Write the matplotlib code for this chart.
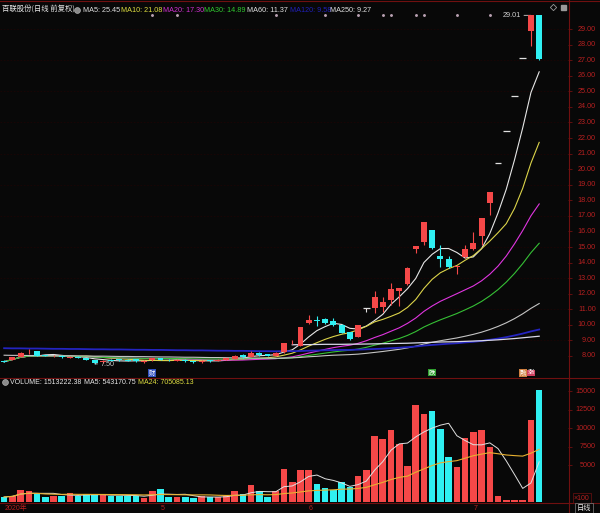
import numpy as np
import pandas as pd
import matplotlib
matplotlib.use("Agg")
import matplotlib.pyplot as plt
import matplotlib.transforms as mtrans
from matplotlib.lines import Line2D

plt.rcParams["font.family"] = ["Liberation Sans", "Noto Sans CJK SC", "DejaVu Sans"]

W, H = 600, 513
BG = "#080808"
AXC = "#701010"      # frame lines
LBL = "#b82020"      # axis numbers
RED = "#f54848"
CYAN = "#2ff0f2"

# daily bars, 2020-04 .. 2020-07
opens = [7.70, 7.74, 7.96, 8.17, 8.32, 8.04, 7.97, 8.01, 7.88, 7.94,
         7.86, 7.72, 7.60, 7.73, 7.78, 7.75, 7.78, 7.60, 7.72, 7.84,
         7.76, 7.70, 7.74, 7.66, 7.61, 7.72, 7.68, 7.76, 7.82, 8.05,
         7.96, 8.21, 8.12, 8.00, 8.24, 8.88, 8.66, 10.10, 10.31, 10.36,
         10.27, 9.99, 9.52, 9.24, 11.06, 11.06, 11.17, 11.60, 12.17, 12.62,
         14.89, 15.34, 16.09, 14.42, 14.21, 13.70, 14.34, 14.85, 15.71, 17.85,
         20.41, 22.45, 24.70, 27.17, 28.90, 29.88]
highs = [7.74, 7.95, 8.24, 8.43, 8.35, 8.08, 8.06, 8.04, 7.99, 7.97,
         7.90, 7.76, 7.72, 7.78, 7.83, 7.79, 7.82, 7.72, 7.86, 7.88,
         7.80, 7.80, 7.78, 7.70, 7.73, 7.76, 7.80, 7.88, 8.08, 8.12,
         8.34, 8.26, 8.16, 8.24, 8.86, 9.05, 9.88, 10.63, 10.55, 10.42,
         10.47, 10.03, 9.55, 10.02, 11.06, 12.17, 11.80, 12.70, 12.39, 13.70,
         15.06, 16.63, 16.12, 15.13, 14.40, 13.80, 15.13, 15.98, 16.85, 18.55,
         20.41, 22.45, 24.70, 27.17, 29.88, 29.88]
lows = [7.60, 7.72, 7.94, 8.12, 8.00, 7.98, 7.95, 7.90, 7.85, 7.84,
        7.72, 7.50, 7.57, 7.65, 7.70, 7.66, 7.62, 7.58, 7.70, 7.72,
        7.68, 7.68, 7.64, 7.58, 7.58, 7.64, 7.66, 7.74, 7.80, 7.90,
        7.94, 8.02, 7.98, 7.98, 8.20, 8.80, 8.62, 10.05, 9.92, 10.05,
        9.95, 9.45, 9.02, 9.20, 10.80, 10.74, 10.85, 11.30, 11.20, 12.55,
        14.60, 15.13, 14.90, 13.74, 13.68, 13.27, 14.30, 14.80, 15.13, 17.06,
        20.41, 22.45, 24.70, 27.17, 27.90, 27.00]
closes = [7.63, 7.92, 8.21, 8.21, 8.02, 8.01, 8.03, 7.93, 7.96, 7.87,
          7.75, 7.58, 7.70, 7.68, 7.73, 7.69, 7.66, 7.69, 7.84, 7.75,
          7.72, 7.77, 7.67, 7.62, 7.70, 7.67, 7.77, 7.86, 8.03, 7.95,
          8.21, 8.04, 8.00, 8.21, 8.81, 8.92, 9.88, 10.31, 10.23, 10.10,
          9.99, 9.50, 9.07, 9.99, 11.06, 11.77, 11.49, 12.28, 12.39, 13.67,
          15.06, 16.63, 14.92, 14.21, 13.70, 13.78, 14.85, 15.28, 16.85, 18.55,
          20.41, 22.45, 24.70, 27.17, 29.88, 27.06]
# volume in hundreds of shares
volumes = [675, 855, 1670, 1530, 1125, 675, 855, 855, 1215, 855,
           1035, 945, 945, 855, 855, 855, 855, 500, 1485, 1710,
           720, 675, 630, 540, 855, 675, 630, 855, 1485, 1035,
           2250, 1530, 675, 1440, 4455, 2745, 4320, 4320, 2385, 1935,
           1620, 2655, 1980, 3555, 4320, 8955, 8460, 9720, 7830, 4860,
           13095, 11835, 12330, 9810, 6120, 4680, 8595, 9495, 9720, 7470,
           810, 300, 300, 300, 11130, 15132]

# long averages (history before the window is not shown)
ma60 = [8.05, 8.04, 8.04, 8.03, 8.03, 8.02, 8.02, 8.01, 8.01, 8.00,
        8.00, 7.99, 7.99, 7.98, 7.97, 7.97, 7.96, 7.96, 7.95, 7.94,
        7.94, 7.93, 7.92, 7.92, 7.91, 7.90, 7.90, 7.89, 7.88, 7.88,
        7.87, 7.86, 7.86, 7.85, 7.86, 7.88, 7.91, 7.95, 7.98, 8.02,
        8.05, 8.07, 8.09, 8.12, 8.17, 8.23, 8.29, 8.36, 8.43, 8.52,
        8.63, 8.77, 8.88, 8.98, 9.07, 9.16, 9.27, 9.39, 9.53, 9.70,
        9.90, 10.13, 10.40, 10.71, 11.06, 11.37]
ma120 = [8.50, 8.49, 8.49, 8.48, 8.48, 8.47, 8.46, 8.46, 8.45, 8.45,
         8.44, 8.43, 8.43, 8.42, 8.42, 8.41, 8.40, 8.40, 8.39, 8.39,
         8.38, 8.37, 8.37, 8.36, 8.36, 8.35, 8.34, 8.34, 8.33, 8.33,
         8.32, 8.31, 8.31, 8.30, 8.31, 8.31, 8.32, 8.34, 8.35, 8.37,
         8.38, 8.39, 8.39, 8.41, 8.43, 8.45, 8.47, 8.50, 8.53, 8.57,
         8.61, 8.67, 8.71, 8.75, 8.79, 8.82, 8.87, 8.91, 8.97, 9.04,
         9.12, 9.21, 9.32, 9.44, 9.58, 9.70]
ma250_start = 35
ma250 = [8.72, 8.73, 8.73, 8.74, 8.75, 8.75, 8.75, 8.76, 8.76, 8.77,
         8.78, 8.79, 8.80, 8.81, 8.82, 8.84, 8.86, 8.88, 8.90, 8.91,
         8.92, 8.94, 8.96, 8.98, 9.01, 9.04, 9.08, 9.12, 9.17, 9.22, 9.27]

price_ticks = list(range(8, 30))
vol_ticks = [5000, 7500, 10000, 12500, 15000]
month_idx = [19, 37, 57]
month_lbl = ["5", "6", "7"]
event_idx = [18, 52, 63, 64]
event_txt = ["财", "跌", "融", "涨"]
event_col = ["#3050c0", "#30a030", "#d08040", "#d04060"]
mine_idx = [18, 21, 33, 39, 43, 46, 47, 50, 51, 55, 59]

header = [("MA5: 25.45", "#e0e0e0"), ("MA10: 21.08", "#dede40"),
          ("MA20: 17.30", "#d030d0"), ("MA30: 14.89", "#30c830"),
          ("MA60: 11.37", "#e0e0e0"), ("MA120: 9.58", "#2020b8"),
          ("MA250: 9.27", "#e0e0e0")]
header_x = [83, 121, 163, 204, 247, 290, 330]

n = len(closes)
x = np.arange(n)
o = np.array(opens); c = np.array(closes)
hi = np.array(highs); lo = np.array(lows)
v = np.array(volumes, dtype=float)

cs = pd.Series(c)
mas = {5: "#e6e6e6", 10: "#dcd44a", 20: "#e035e0", 30: "#35c035"}

fig = plt.figure(figsize=(W / 100, H / 100), dpi=100, facecolor=BG)
ax = fig.add_axes([0, 1 - 377.7 / H, 568 / W, 375.7 / H], facecolor=BG)
axv = fig.add_axes([0, 1 - 503 / H, 568 / W, 125 / H], facecolor=BG)

# ---- price panel ----
ax.set_xlim(-0.5, 68.5)
ax.set_ylim(6.606, 30.736)

for p in price_ticks[1::2]:
    ax.axhline(p, color="#1c0505", lw=0.6, ls=(0, (2, 2)), zorder=0)

for k, col in mas.items():
    ax.plot(x, cs.rolling(k, min_periods=1).mean(), color=col, lw=0.8, zorder=2)
ax.plot(x, ma60, color="#c4c4c4", lw=0.8, zorder=2)
ax.plot(x, ma120, color="#2424c0", lw=1.3, zorder=2)
ax.plot(x[ma250_start:], ma250, color="#d8d8e8", lw=0.9, zorder=2)

cols = np.where(c > o, RED, np.where(c < o, CYAN, "#e0e0e0"))
ax.vlines(x, lo, hi, colors=cols, lw=0.8, zorder=3)
body = np.abs(c - o)
ax.bar(x, np.maximum(body, 0.001), bottom=np.minimum(o, c), width=0.72,
       color=cols, zorder=4)
flat = body < 0.02
ax.hlines(c[flat], x[flat] - 0.4, x[flat] + 0.4, colors=cols[flat], lw=0.9, zorder=4)

# high / low marks
ih = int(np.argmax(hi)); il = int(np.argmin(lo))
ax.annotate("29.01", xy=(ih, hi[ih]), xytext=(-7, 0), textcoords="offset points",
            ha="right", va="center", color="#d0d0d0", fontsize=5.2,
            arrowprops=dict(arrowstyle="-", color="#d0d0d0", lw=0.6,
                            shrinkA=0, shrinkB=0))
ax.annotate(f"{lo[il]:.2f}", xy=(il, lo[il]), xytext=(4, -0.5), textcoords="offset points",
            ha="left", va="center", color="#c8c8c8", fontsize=5.2,
            arrowprops=dict(arrowstyle="-", color="#c8c8c8", lw=0.6,
                            shrinkA=0, shrinkB=0))

# info-mine dots near the top, event tags at the bottom
ax.scatter(mine_idx, [29.9] * len(mine_idx), s=1.2, color="#b8a0b0", zorder=5)
for i, t, col in zip(event_idx, event_txt, event_col):
    ax.text(i, 6.92, t, ha="center", va="center", fontsize=4.6, color="white",
            bbox=dict(boxstyle="square,pad=0.12", fc=col, ec="none"))

ax.set_xticks([])
ax.yaxis.tick_right()
ax.set_yticks(price_ticks)
ax.tick_params(axis="y", colors=AXC, length=3, width=0.6, labelright=False)
for s in ax.spines.values():
    s.set_visible(False)
tr = mtrans.blended_transform_factory(ax.transAxes, ax.transData)
for p in price_ticks:
    ax.text(596 / 568, p, f"{p:.2f}", transform=tr, ha="right", va="center",
            color=LBL, fontsize=5.2, clip_on=False)

# ---- volume panel ----
axv.set_xlim(-0.5, 68.5)
axv.set_ylim(-135, 16757)
prev = np.r_[c[0], c[:-1]]
vcol = np.where(c > o, RED, np.where(c < o, CYAN, np.where(c >= prev, RED, CYAN)))
axv.bar(x, v, width=0.8, color=vcol, zorder=2)
vs = pd.Series(v)
axv.plot(x, vs.rolling(5, min_periods=1).mean(), color="#e0e0e0", lw=0.7, zorder=3)
axv.plot(x, vs.rolling(24, min_periods=1).mean(), color="#e8b030", lw=0.8, zorder=3)
axv.set_xticks([])
axv.yaxis.tick_right()
axv.set_yticks(vol_ticks)
axv.tick_params(axis="y", colors=AXC, length=3, width=0.6, labelright=False)
for s in axv.spines.values():
    s.set_visible(False)
trv = mtrans.blended_transform_factory(axv.transAxes, axv.transData)
for t in vol_ticks:
    axv.text(596 / 568, t, f"{t}", transform=trv, ha="right", va="center",
             color=LBL, fontsize=5.2, clip_on=False)


def fx(px):
    return px / W


def fy(py):
    return 1 - py / H


# frame lines
for (x0, y0, x1, y1) in [(0, 0.8, 600, 0.8), (0, 377.7, 600, 377.7),
                         (0, 503, 600, 503), (568.5, 0, 568.5, 513)]:
    fig.add_artist(Line2D([fx(x0), fx(x1)], [fy(y0), fy(y1)], color=AXC, lw=0.8))

# headers
fig.text(fx(2), fy(10), "百联股份(日线 前复权)", color="#e8e8e8", fontsize=5.3,
         va="center", family=["Noto Sans CJK SC", "DejaVu Sans"])
fig.add_artist(Line2D([fx(77)], [fy(10)], marker="o", ms=4.2, mfc="#8a8a8a",
                      mec="#b0b0b0", mew=0.5))
for (t, col), px in zip(header, header_x):
    fig.text(fx(px), fy(10), t, color=col, fontsize=5.2, va="center")
fig.add_artist(Line2D([fx(553)], [fy(7)], marker="D", ms=3.2, mfc="none",
                      mec="#9a9a9a", mew=0.6))
fig.add_artist(Line2D([fx(563)], [fy(7)], marker="s", ms=3.6, mfc="#9a9a9a",
                      mec="#9a9a9a"))

fig.add_artist(Line2D([fx(5)], [fy(382)], marker="o", ms=4.2, mfc="#8a8a8a",
                      mec="#b0b0b0", mew=0.5))
fig.text(fx(10), fy(382), "VOLUME: 1513222.38", color="#e8e8e8", fontsize=5.0, va="center")
fig.text(fx(84), fy(382), "MA5: 543170.75", color="#e8e8e8", fontsize=5.0, va="center")
fig.text(fx(138), fy(382), "MA24: 705085.13", color="#dede40", fontsize=5.0, va="center")
fig.text(fx(574), fy(498), "×100", color=LBL, fontsize=5.0, va="center",
         bbox=dict(boxstyle="square,pad=0.15", fc=BG, ec=AXC, lw=0.5))

# date row
fig.text(fx(5), fy(508), "2020年", color=LBL, fontsize=5.0, va="center")
trd = mtrans.blended_transform_factory(axv.transData, fig.transFigure)
for i, t in zip(month_idx, month_lbl):
    fig.text(i, fy(508), t, transform=trd, color=LBL, fontsize=5.0, va="center", ha="left")
fig.text(fx(584), fy(508), "日线", color="#e8e8e8", fontsize=5.2, va="center", ha="center",
         family=["Noto Sans CJK SC", "DejaVu Sans"],
         bbox=dict(boxstyle="square,pad=0.2", fc=BG, ec="#808080", lw=0.5))

fig.savefig("out.png", dpi=100, facecolor=BG)
